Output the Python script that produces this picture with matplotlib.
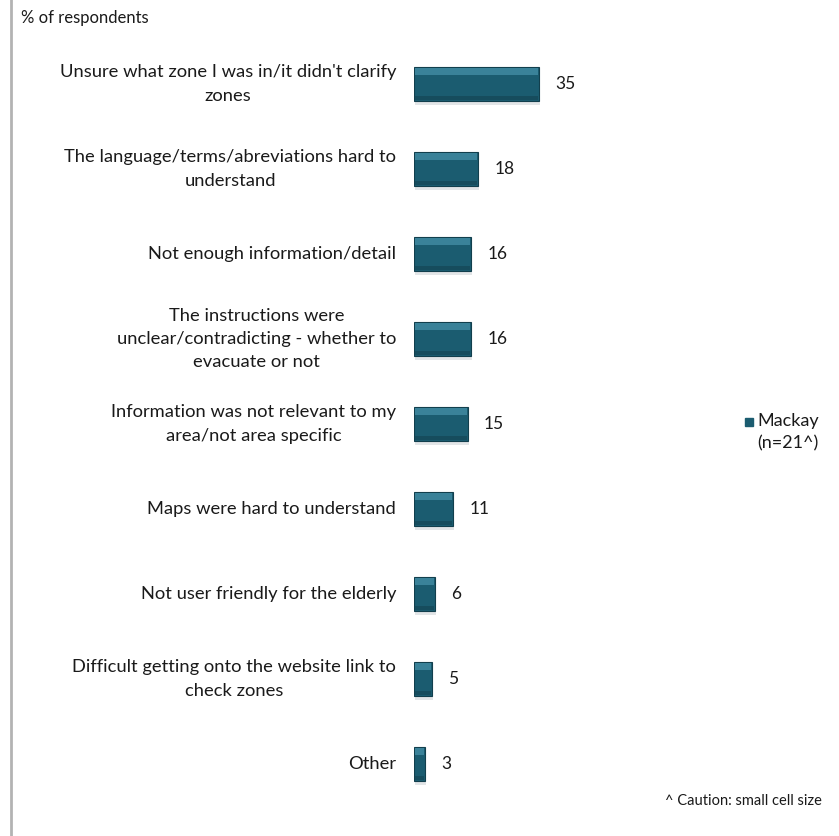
import matplotlib.pyplot as plt
import numpy as np
from matplotlib.patches import Rectangle
from matplotlib.lines import Line2D

plt.rcParams['font.family'] = ['Lato', 'DejaVu Sans']

reasons = ["Unsure what zone I was in/it didn't clarify\nzones",
           "The language/terms/abreviations hard to\nunderstand",
           "Not enough information/detail",
           "The instructions were\nunclear/contradicting - whether to\nevacuate or not",
           "Information was not relevant to my\narea/not area specific",
           "Maps were hard to understand",
           "Not user friendly for the elderly",
           "Difficult getting onto the website link to\ncheck zones",
           "Other"]
mackay = [35, 18, 16, 16, 15, 11, 6, 5, 3]

W, H = 839, 836
fig = plt.figure(figsize=(W / 100, H / 100), dpi=100)

# axes placed in pixel terms: bars start at x=414, 85px per row
ax = fig.add_axes([414 / W, 1 - 806.5 / H, 179 / W, 765 / H])
ax.set_xlim(0, 50)
ax.set_ylim(len(reasons) - 0.5, -0.5)
ax.set_axis_off()

y = np.arange(len(reasons))
h = 0.4
base = '#1b5c70'
vals = np.array(mackay)
# soft shadow, main bar, light bevel on top, dark edge at bottom
ax.barh(y + 0.05, vals, height=h, left=0.25, color='#e2e5e7', zorder=1)
ax.barh(y, vals, height=h, color=base, edgecolor='#123f4d', linewidth=0.8, zorder=2)
ax.barh(y - h / 2 + 0.05, vals - 0.6, height=0.08, left=0.3,
        color='#3a8299', zorder=3)
ax.barh(y + h / 2 - 0.035, vals - 0.6, height=0.05, left=0.3,
        color='#164c5d', zorder=3)

for yi, v, lab in zip(y, mackay, reasons):
    ax.text(v + 4.5, yi, str(v), va='center', ha='left', fontsize=12.5, color='#1a1a1a')
    ax.text(-5, yi, lab, va='center', ha='right', multialignment='center',
            fontsize=13.2, color='#1a1a1a', linespacing=1.55)

fig.text(21 / W, 1 - 18 / H, '% of respondents', fontsize=12, va='center', ha='left',
         color='#1a1a1a')
fig.text(822 / W, 1 - 801 / H, '^ Caution: small cell size', fontsize=10.5, va='center',
         ha='right', color='#1a1a1a')

# legend entry
fig.patches.append(Rectangle((745 / W, 1 - 426 / H), 8 / W, 8 / H,
                             transform=fig.transFigure, color=base))
fig.text(757 / W, 1 - 421 / H, 'Mackay', fontsize=13, va='center', ha='left',
         color='#1a1a1a')
fig.text(757 / W, 1 - 443 / H, '(n=21^)', fontsize=13, va='center', ha='left',
         color='#1a1a1a')

# grey frame line on the left
fig.add_artist(Line2D([11 / W, 11 / W], [0, 1], transform=fig.transFigure,
                      color='#b3b3b3', linewidth=2))

fig.savefig('out.png', dpi=100, facecolor='white')
